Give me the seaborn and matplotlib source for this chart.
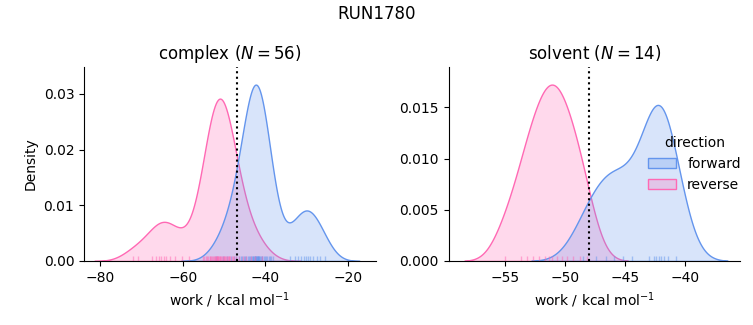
import numpy as np
import pandas as pd
import matplotlib
matplotlib.use("Agg")
import matplotlib.pyplot as plt
import seaborn as sns

# ---- data (work values, kcal/mol) ----
complex_forward = [
    -52.0, -50.3, -49.2, -48.3,
    -47.6, -47.0, -46.5, -46.0, -45.6, -45.2, -44.9, -44.6, -44.3, -44.0,
    -43.7, -43.5, -43.3, -43.1, -42.9, -42.7, -42.6, -42.5, -42.4, -42.3,
    -42.2, -42.1, -42.0, -41.9, -41.8, -41.7, -41.6, -41.5, -41.3, -41.1,
    -40.9, -40.7, -40.4, -40.1, -39.8, -39.5, -39.2, -38.9, -38.6, -38.2,
    -34.0, -32.9, -32.0, -31.3, -30.7, -30.2, -29.7, -29.1, -28.4, -27.6,
    -26.7, -25.6,
]
complex_reverse = [
    -72.0, -70.8, -67.4, -66.5, -65.8, -65.2, -64.6, -64.0, -63.0, -61.8,
    -60.3, -58.5,
    -55.2, -54.8, -54.4, -54.1, -53.8, -53.5, -53.3, -53.1, -52.9, -52.7,
    -52.5, -52.3, -52.1, -51.9, -51.8, -51.7, -51.6, -51.5, -51.4, -51.3,
    -51.1, -50.9, -50.7, -50.5, -50.3, -50.1, -49.9, -49.7, -49.5, -49.3,
    -49.1, -48.9, -48.7, -48.5, -48.2, -47.9, -47.5, -47.0,
    -46.3, -45.5, -44.6, -43.6, -42.4, -40.8,
]
solvent_forward = [
    -48.5, -47.4, -46.6, -45.9, -45.2, -44.4,
    -43.0, -42.6, -42.4, -42.2, -42.0, -41.8, -41.4, -40.8,
]
solvent_reverse = [
    -55.0, -53.7, -53.2, -52.7, -52.2, -51.7, -51.4, -51.1, -50.7, -50.3,
    -49.9, -49.4, -48.8, -48.2,
]
free_energy = {"complex": -46.9, "solvent": -48.0}
phases = ["complex", "solvent"]
directions = ["forward", "reverse"]
colors = {"forward": "cornflowerblue", "reverse": "hotpink"}
xlims = {"complex": (-83.9, -13.3), "solvent": (-59.75, -35.4)}

rows = []
for phase, d, vals in [
    ("complex", "forward", complex_forward),
    ("complex", "reverse", complex_reverse),
    ("solvent", "forward", solvent_forward),
    ("solvent", "reverse", solvent_reverse),
]:
    for v in vals:
        rows.append({"phase": phase, "direction": d, "work": v,
                     "series": f"{phase}:{d}"})
df = pd.DataFrame(rows)

fig, axes = plt.subplots(1, 2, figsize=(7.53, 3.25), dpi=100)
fig.subplots_adjust(left=0.1116, right=0.983, bottom=0.197, top=0.794, wspace=0.25)

for ax, phase in zip(axes, phases):
    sub = df[df.phase == phase]
    n = int((sub.direction == "forward").sum())
    order = [f"{phase}:{d}" for d in directions]
    sns.kdeplot(data=df, x="work", hue="series", hue_order=order,
                palette=[colors[d] for d in directions], fill=True,
                ax=ax, legend=(phase == "solvent"))
    sns.rugplot(data=sub, x="work", hue="direction", hue_order=directions,
                palette=colors, ax=ax, legend=False, alpha=0.5)
    ax.axvline(free_energy[phase], color="k", ls=":", lw=1.5)
    ax.set_xlim(*xlims[phase])
    ax.set_title(f"{phase} ($N = {n}$)")
    ax.set_xlabel("work / kcal mol$^{-1}$")
    sns.despine(ax=ax)

axes[1].set_ylabel("")
sns.move_legend(axes[1], "center right", bbox_to_anchor=(1.045, 0.5),
                frameon=False, title="direction")
leg = axes[1].get_legend()
for t, lab in zip(leg.texts, directions):
    t.set_text(lab)

fig.suptitle("RUN1780", y=0.985)
fig.savefig("out.png", dpi=100)
